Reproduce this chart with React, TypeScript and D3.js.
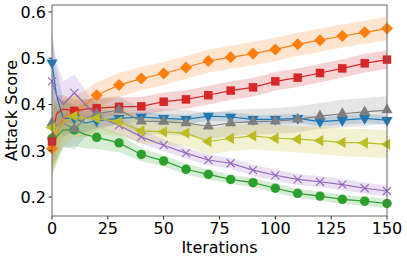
import * as React from 'react'
import * as d3 from 'd3'

const iterations = [0, 2, 5, 10, 15, 20, 30, 40, 50, 60, 70, 80, 90, 100, 110, 120, 130, 140, 150]
const xTicks = [0, 25, 50, 75, 100, 125, 150]
const yTicks = [0.2, 0.3, 0.4, 0.5, 0.6]

const blueVals = [0.49, 0.42, 0.37, 0.37, 0.36, 0.365, 0.37, 0.373, 0.37, 0.368, 0.375, 0.373, 0.368, 0.368, 0.37, 0.363, 0.366, 0.37, 0.366]
const blueSpread = [0.07, 0.06, 0.04, 0.03, 0.02, 0.015, 0.012, 0.01, 0.01, 0.01, 0.01, 0.01, 0.01, 0.01, 0.01, 0.01, 0.01, 0.01, 0.01]
const orangeVals = [0.305, 0.33, 0.37, 0.385, 0.4, 0.42, 0.442, 0.456, 0.467, 0.48, 0.494, 0.502, 0.51, 0.519, 0.53, 0.539, 0.548, 0.556, 0.564]
const orangeSpread = [0.06, 0.05, 0.04, 0.035, 0.03, 0.028, 0.026, 0.025, 0.025, 0.025, 0.025, 0.025, 0.025, 0.025, 0.025, 0.025, 0.025, 0.025, 0.025]
const greenVals = [0.327, 0.33, 0.345, 0.345, 0.335, 0.329, 0.317, 0.292, 0.278, 0.26, 0.249, 0.238, 0.231, 0.219, 0.208, 0.202, 0.195, 0.191, 0.186]
const greenSpread = [0.08, 0.06, 0.04, 0.035, 0.03, 0.025, 0.02, 0.014, 0.012, 0.012, 0.011, 0.01, 0.01, 0.01, 0.01, 0.01, 0.01, 0.01, 0.01]
const redVals = [0.32, 0.38, 0.39, 0.386, 0.39, 0.392, 0.395, 0.396, 0.406, 0.411, 0.42, 0.43, 0.437, 0.45, 0.458, 0.468, 0.478, 0.489, 0.497]
const redSpread = [0.06, 0.04, 0.03, 0.025, 0.022, 0.02, 0.02, 0.02, 0.02, 0.02, 0.02, 0.02, 0.02, 0.02, 0.02, 0.02, 0.02, 0.02, 0.02]
const purpleVals = [0.45, 0.42, 0.4, 0.425, 0.4, 0.375, 0.355, 0.33, 0.312, 0.295, 0.28, 0.273, 0.258, 0.247, 0.238, 0.233, 0.227, 0.219, 0.213]
const purpleSpread = [0.1, 0.07, 0.05, 0.04, 0.03, 0.025, 0.02, 0.015, 0.013, 0.012, 0.012, 0.012, 0.012, 0.012, 0.012, 0.012, 0.012, 0.012, 0.012]
const grayVals = [0.36, 0.34, 0.36, 0.347, 0.37, 0.38, 0.388, 0.364, 0.363, 0.36, 0.353, 0.36, 0.363, 0.364, 0.368, 0.375, 0.38, 0.384, 0.388]
const graySpread = [0.09, 0.06, 0.05, 0.045, 0.04, 0.035, 0.03, 0.028, 0.028, 0.028, 0.028, 0.028, 0.028, 0.028, 0.028, 0.028, 0.03, 0.03, 0.03]
const oliveVals = [0.35, 0.34, 0.36, 0.375, 0.37, 0.37, 0.363, 0.343, 0.341, 0.338, 0.32, 0.327, 0.332, 0.327, 0.325, 0.322, 0.318, 0.317, 0.314]
const oliveSpread = [0.09, 0.06, 0.05, 0.045, 0.04, 0.035, 0.03, 0.028, 0.028, 0.028, 0.028, 0.028, 0.028, 0.028, 0.028, 0.03, 0.03, 0.03, 0.03]

const seriesList = [
	{ name: 'blue', color: '#1f77b4', marker: 'tridown', vals: blueVals, spread: blueSpread },
	{ name: 'orange', color: '#ff7f0e', marker: 'diamond', vals: orangeVals, spread: orangeSpread },
	{ name: 'green', color: '#2ca02c', marker: 'circle', vals: greenVals, spread: greenSpread },
	{ name: 'red', color: '#d62728', marker: 'square', vals: redVals, spread: redSpread },
	{ name: 'purple', color: '#9467bd', marker: 'x', vals: purpleVals, spread: purpleSpread },
	{ name: 'gray', color: '#7f7f7f', marker: 'triup', vals: grayVals, spread: graySpread },
	{ name: 'olive', color: '#bcbd22', marker: 'trileft', vals: oliveVals, spread: oliveSpread },
]

const W = 407, H = 260
const m = { left: 52, right: 20, top: 5, bottom: 44 }

function markerPath(kind: string) {
	if (kind === 'circle') return { d: d3.symbol(d3.symbolCircle, 70)()!, rot: 0 }
	if (kind === 'square') return { d: d3.symbol(d3.symbolSquare, 72)()!, rot: 0 }
	if (kind === 'diamond') return { d: d3.symbol(d3.symbolSquare, 72)()!, rot: 45 }
	if (kind === 'x') return { d: 'M-4,-4L4,4M-4,4L4,-4', rot: 0 }
	const tri = d3.symbol(d3.symbolTriangle, 55)()!
	if (kind === 'tridown') return { d: tri, rot: 180 }
	if (kind === 'trileft') return { d: tri, rot: -90 }
	return { d: tri, rot: 0 }
}

const App: React.FC = () => {
	const x = d3.scaleLinear().domain([0, 150]).range([m.left, W - m.right])
	const y = d3.scaleLinear().domain([0.159, 0.615]).range([H - m.bottom, m.top])

	const line = d3.line<number>()
		.x((_, i) => x(iterations[i]))
		.y(d => y(d))

	const bands = seriesList.map(s => d3.area<number>()
		.x((_, i) => x(iterations[i]))
		.y0((d, i) => y(d - s.spread[i]))
		.y1((d, i) => y(d + s.spread[i]))(s.vals))

	const font = 'DejaVu Sans, sans-serif'

	return (
		<div style={{ position: 'absolute', left: 0, top: 0 }}>
			<svg width={W} height={H} style={{ display: 'block' }}>
				<rect width={W} height={H} fill='white' />
				{seriesList.map((s, k) => (
					<path key={'b' + s.name} d={bands[k]!} fill={s.color} opacity={0.2} />
				))}
				{seriesList.map(s => {
					const mk = markerPath(s.marker)
					return (
						<g key={s.name}>
							<path d={line(s.vals)!} fill='none' stroke={s.color} strokeWidth={1.2} />
							{s.vals.map((v, i) => iterations[i] % 10 === 0 ? (
								<path key={i} d={mk.d}
									transform={`translate(${x(iterations[i])},${y(v)}) rotate(${mk.rot})`}
									fill={s.marker === 'x' ? 'none' : s.color}
									stroke={s.color} strokeWidth={s.marker === 'x' ? 1.1 : 0} />
							) : null)}
						</g>
					)
				})}
				<rect x={m.left} y={m.top} width={W - m.left - m.right} height={H - m.top - m.bottom}
					fill='none' stroke='#666' strokeWidth={1} />
				{xTicks.map(t => (
					<g key={'x' + t} transform={`translate(${x(t)},${H - m.bottom})`}>
						<line y2={3.5} stroke='#333' />
						<text y={18} textAnchor='middle' fontFamily={font} fontSize={16} fill='#000'>{t}</text>
					</g>
				))}
				{yTicks.map(t => (
					<g key={'y' + t} transform={`translate(${m.left},${y(t)})`}>
						<line x2={-3.5} stroke='#333' />
						<text x={-6} dy='0.36em' textAnchor='end' fontFamily={font} fontSize={16} fill='#000'>{t.toFixed(1)}</text>
					</g>
				))}
				<text x={(m.left + W - m.right) / 2} y={253} textAnchor='middle' fontFamily={font} fontSize={16} fill='#000'>Iterations</text>
				<text transform={`translate(17,${(m.top + H - m.bottom) / 2}) rotate(-90)`} textAnchor='middle' fontFamily={font} fontSize={16} fill='#000'>Attack Score</text>
			</svg>
		</div>
	)
}

export default App
